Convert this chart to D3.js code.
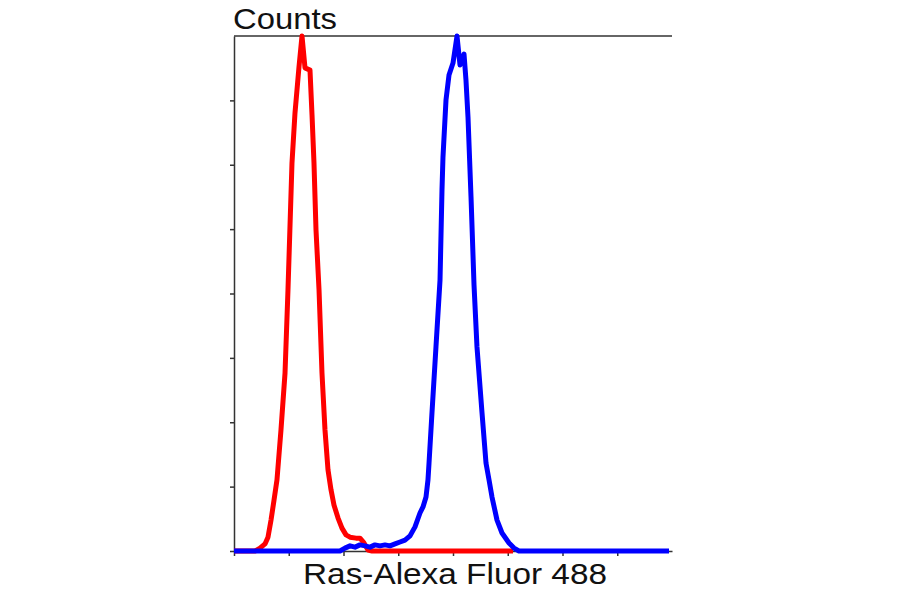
<!DOCTYPE html>
<html>
<head>
<meta charset="utf-8">
<script src="https://cdn.jsdelivr.net/npm/d3@7"></script>
<style>
  body { margin: 0; background: #fff; }
  svg { display: block; }
  text { font-family: "Liberation Sans", Arial, sans-serif; }
</style>
</head>
<body>
<svg width="900" height="594"></svg>
<script>

// isotype control (red)
let redX = [0, 38.4, 47.5, 56.6, 62.1, 67.6, 73.1, 78.5, 85.8, 93.2, 98.6, 105.9, 111.4, 118.7, 124.2,
            129.7, 138.8, 142.5, 146.1, 149.8, 155.3, 160.7, 166.2, 171.7, 177.2, 182.6, 189.9,
            197.2, 204.6, 211.9, 222.8, 230.1, 237.4, 244.8, 252.1, 509.6];
let redY = [0, 0, 0.9, 2.2, 4.3, 9.6, 15.8, 22.1, 37.6, 55.3, 81.1, 120.5, 136.1, 150.4, 160,
            150.1, 149.4, 135.5, 120.5, 99.7, 81.1, 55.3, 37.6, 25.2, 19.0, 14.3, 10.3,
            7.1, 5.0, 4.3, 4.0, 4.0, 2.5, 0.3, 0, 0];

// Ras stained (blue)
let blueX = [0, 193.6, 202.7, 211.9, 221.0, 230.1, 239.3, 248.4, 257.5, 266.7, 275.8, 284.9, 294.1,
             303.2, 312.3, 321.5, 330.6, 339.7, 345.2, 350.7, 354.3, 356.2, 361.6, 368.9, 376.3,
             379.9, 381.7, 387.2, 392.7, 400.0, 407.3, 412.8, 420.1, 423.7, 427.4, 432.9, 438.4,
             443.8, 453.0, 460.3, 465.8, 471.2, 480.4, 489.5, 502.3, 511.4, 520.5, 794.5];
let blueY = [0, 0, 0.9, 1.6, 1.2, 1.9, 1.6, 1.2, 1.9, 1.6, 1.9, 1.6, 2.2,
             2.8, 3.4, 4.7, 7.5, 11.8, 13.7, 16.8, 22.1, 27.3, 42.9, 63.4, 84.2,
             112.2, 122.4, 140.1, 147.9, 151.6, 160, 151.0, 154.4, 146.3, 134.8, 110.0, 82.6,
             63.4, 42.9, 27.3, 22.1, 16.8, 9.6, 5.6, 2.5, 0.9, 0, 0];

let xTicks = d3.range(0, 701, 100);
let yTicks = d3.range(0, 141, 20);

let svg = d3.select('svg');

let xScale = d3.scaleLinear()
               .domain([0, 800])
               .range([234, 672]);

let yScale = d3.scaleLinear()
               .domain([0, 160])
               .range([551, 36]);

// frame top
svg.append('line')
   .attr('x1', xScale(0))
   .attr('x2', xScale(800))
   .attr('y1', yScale(160))
   .attr('y2', yScale(160))
   .attr('stroke', '#333')
   .attr('stroke-width', 1.5);

let xAxis = d3.axisBottom(xScale)
              .tickValues(xTicks)
              .tickSize(5)
              .tickSizeOuter(0)
              .tickFormat('');

svg.append('g')
   .attr('id', 'xAxisG')
   .attr('transform', 'translate(0,' + yScale(0) + ')')
   .call(xAxis);

let yAxis = d3.axisLeft(yScale)
              .tickValues(yTicks)
              .tickSize(4)
              .tickSizeOuter(0)
              .tickFormat('');

svg.append('g')
   .attr('id', 'yAxisG')
   .attr('transform', 'translate(' + xScale(0) + ',0)')
   .call(yAxis);

svg.selectAll('#xAxisG path, #xAxisG line, #yAxisG path, #yAxisG line')
   .attr('stroke', '#333')
   .attr('stroke-width', 1.5);

let line = d3.line()
             .x(function(d) { return xScale(d[0]); })
             .y(function(d) { return yScale(d[1]); });

svg.append('path')
   .attr('id', 'redArea')
   .attr('d', line(d3.zip(redX, redY)))
   .attr('fill', 'none')
   .attr('stroke', '#ff0000')
   .attr('stroke-width', 5)
   .attr('stroke-linejoin', 'round');

svg.append('path')
   .attr('id', 'blueArea')
   .attr('d', line(d3.zip(blueX, blueY)))
   .attr('fill', 'none')
   .attr('stroke', '#0000ff')
   .attr('stroke-width', 5)
   .attr('stroke-linejoin', 'round');

svg.append('text')
   .attr('x', 233)
   .attr('y', 29)
   .attr('font-size', 30)
   .attr('textLength', 104)
   .attr('lengthAdjust', 'spacingAndGlyphs')
   .attr('fill', '#111')
   .text('Counts');

svg.append('text')
   .attr('x', 303)
   .attr('y', 584)
   .attr('font-size', 30)
   .attr('textLength', 304)
   .attr('lengthAdjust', 'spacingAndGlyphs')
   .attr('fill', '#111')
   .text('Ras-Alexa Fluor 488');

</script>
</body>
</html>
